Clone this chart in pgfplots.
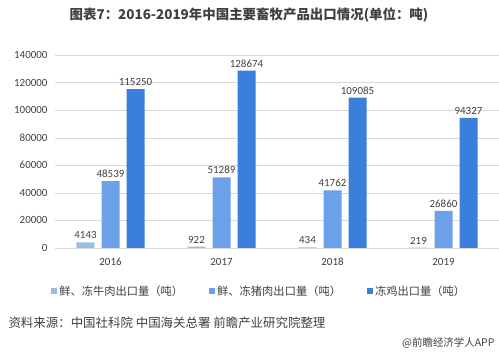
\documentclass[border=0pt]{standalone}
\usepackage{pgfplots}
\pgfplotsset{compat=1.18}
\usepackage{fontspec}
\setmainfont{Carlito}
\newfontfamily\cjk{Noto Sans CJK SC}
\definecolor{c1}{RGB}{150,190,232}
\definecolor{c2}{RGB}{108,160,232}
\definecolor{c3}{RGB}{58,127,220}
\definecolor{txt}{RGB}{64,64,64}
\definecolor{gridc}{RGB}{217,217,217}
\begin{document}
\begin{tikzpicture}
\path[use as bounding box] (0,0) rectangle (499bp,355bp);
\node[font=\cjk\bfseries\fontsize{13.5}{15}\selectfont, text=txt] at (249bp,340bp) {图表7：2016-2019年中国主要畜牧产品出口情况(单位：吨)};
\begin{axis}[
  at={(55bp,107bp)}, anchor=south west,
  scale only axis, width=444bp, height=193bp,
  ybar, bar width=18bp,
  xmin=-0.5, xmax=3.5, ymin=0, ymax=140000,
  xtick={0,1,2,3}, xticklabels={2016,2017,2018,2019},
  ytick={0,20000,...,140000},
  /pgf/number format/.cd, fixed, precision=0, 1000 sep={}, assume math mode=true, /pgfplots/.cd,
  scaled y ticks=false,
  separate axis lines,
  axis x line*=bottom, axis y line*=left,
  y axis line style={draw=none},
  x axis line style={draw=gridc, -},
  ymajorgrids, grid style={draw=gridc},
  major tick length=0pt,
  tick label style={font=\fontsize{11}{12}\selectfont, text=txt},
  yticklabel style={xshift=-4bp},
  xticklabel style={anchor=north, text height=8bp, text depth=0bp, yshift=-6bp},
  nodes near coords,
  every node near coord/.append style={font=\fontsize{11}{12}\selectfont, text=txt},
  legend style={at={(0.46,-0.223)}, anchor=center, draw=none, legend columns=3, font=\cjk\fontsize{11.3}{12}\selectfont, text=txt, /tikz/every even column/.append style={column sep=24bp}},
  legend image code/.code={\fill[#1,draw=none] (0bp,-3bp) rectangle (6bp,3bp);},
  clip=false,
]
\addplot[fill=c1, draw=none, bar shift=-25bp] coordinates {(0,4143) (1,922) (2,434) (3,219)};
\addplot[fill=c2, draw=none, bar shift=0bp] coordinates {(0,48539) (1,51289) (2,41762) (3,26860)};
\addplot[fill=c3, draw=none, bar shift=25bp] coordinates {(0,115250) (1,128674) (2,109085) (3,94327)};
\legend{鲜、冻牛肉出口量（吨）, 鲜、冻猪肉出口量（吨）, 冻鸡出口量（吨）}
\end{axis}
\node[anchor=west, font=\cjk\fontsize{12.5}{14}\selectfont, text=txt] at (5bp,32bp) {资料来源：中国社科院\ 中国海关总署\ 前瞻产业研究院整理};
\node[anchor=east, font=\cjk\fontsize{10.5}{12}\selectfont, text=txt] at (498bp,12bp) {@前瞻经济学人APP};
\end{tikzpicture}
\end{document}
